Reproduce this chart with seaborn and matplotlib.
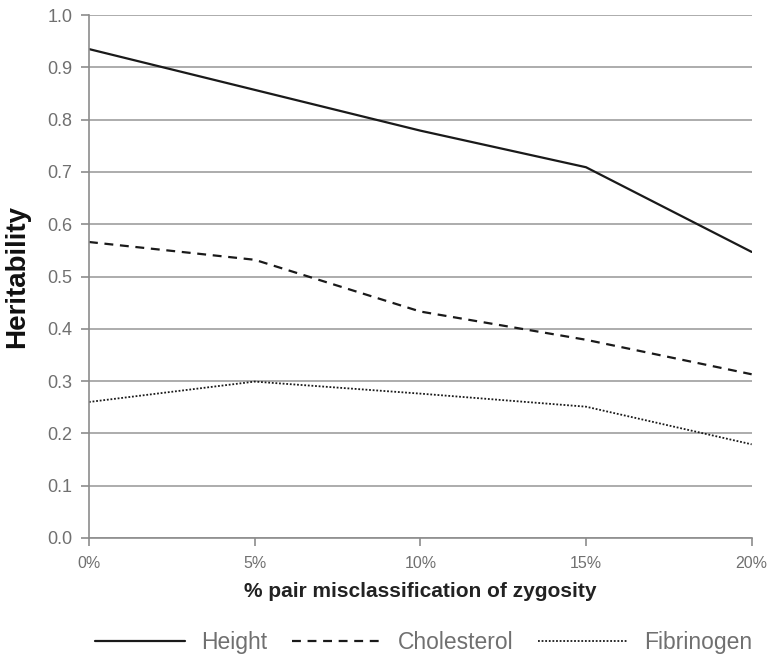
import numpy as np
import pandas as pd
import matplotlib
matplotlib.use("Agg")
import matplotlib.pyplot as plt
import seaborn as sns

# DATA
misclass = [0, 5, 10, 15, 20]
height = [0.935, 0.857, 0.779, 0.709, 0.547]
cholesterol = [0.566, 0.532, 0.433, 0.379, 0.313]
fibrinogen = [0.260, 0.299, 0.276, 0.251, 0.179]
x_tick_labels = ["0%", "5%", "10%", "15%", "20%"]

series = {"Height": height, "Cholesterol": cholesterol, "Fibrinogen": fibrinogen}
styles = {"Height": "-", "Cholesterol": (0, (4, 3)), "Fibrinogen": (0, (1, 1))}
widths = {"Height": 1.6, "Cholesterol": 1.6, "Fibrinogen": 1.3}

df = pd.DataFrame([
    {"x": x, "value": v, "trait": name}
    for name, vals in series.items()
    for x, v in zip(misclass, vals)
])

sns.set_theme(style="white")
plt.rcParams['font.family'] = ['Liberation Sans', 'DejaVu Sans']

GRAY = "#8c8c8c"
GRID = "#a6a6a6"

fig = plt.figure(figsize=(7.67, 6.56), dpi=100)
ax = fig.add_axes([0.116, 0.180, 0.864, 0.797])

for name in series:
    sub = df[df["trait"] == name]
    sns.lineplot(data=sub, x="x", y="value", ax=ax, color="#1a1a1a",
                 linestyle=styles[name], linewidth=widths[name], label=name)

ax.set_xlim(0, 20)
ax.set_ylim(0, 1.0)
ax.set_xticks(misclass)
ax.set_xticklabels(x_tick_labels)
ax.set_yticks(np.arange(0, 1.01, 0.1))
ax.set_yticklabels([f"{t:.1f}" for t in np.arange(0, 1.01, 0.1)])

ax.yaxis.grid(True, color=GRID, linewidth=1.3)
ax.xaxis.grid(False)
ax.set_axisbelow(True)

for s in ["top", "right"]:
    ax.spines[s].set_visible(False)
for s in ["left", "bottom"]:
    ax.spines[s].set_color(GRAY)
    ax.spines[s].set_linewidth(1.2)

# tick labels: gray, slightly heavy look like the original
ax.tick_params(axis="y", which="major", length=6, width=1.2, color=GRAY,
               labelcolor="#707070", labelsize=13, pad=6, left=True)
ax.tick_params(axis="x", which="major", length=6, width=1.2, color=GRAY,
               labelcolor="#707070", labelsize=11.5, pad=7, bottom=True)

ax.set_ylabel("Heritability", fontsize=20, fontweight="bold", color="#111111", labelpad=12)
ax.set_xlabel("% pair misclassification of zygosity", fontsize=15, fontweight="bold",
              color="#222222", labelpad=8)

leg = ax.legend(loc="center", bbox_to_anchor=(0.505, -0.2), ncol=3, frameon=False,
                fontsize=16.5, handlelength=3.9, columnspacing=1.1, handletextpad=0.7)
for t in leg.get_texts():
    t.set_color("#707070")

fig.savefig("out.png", dpi=100)
